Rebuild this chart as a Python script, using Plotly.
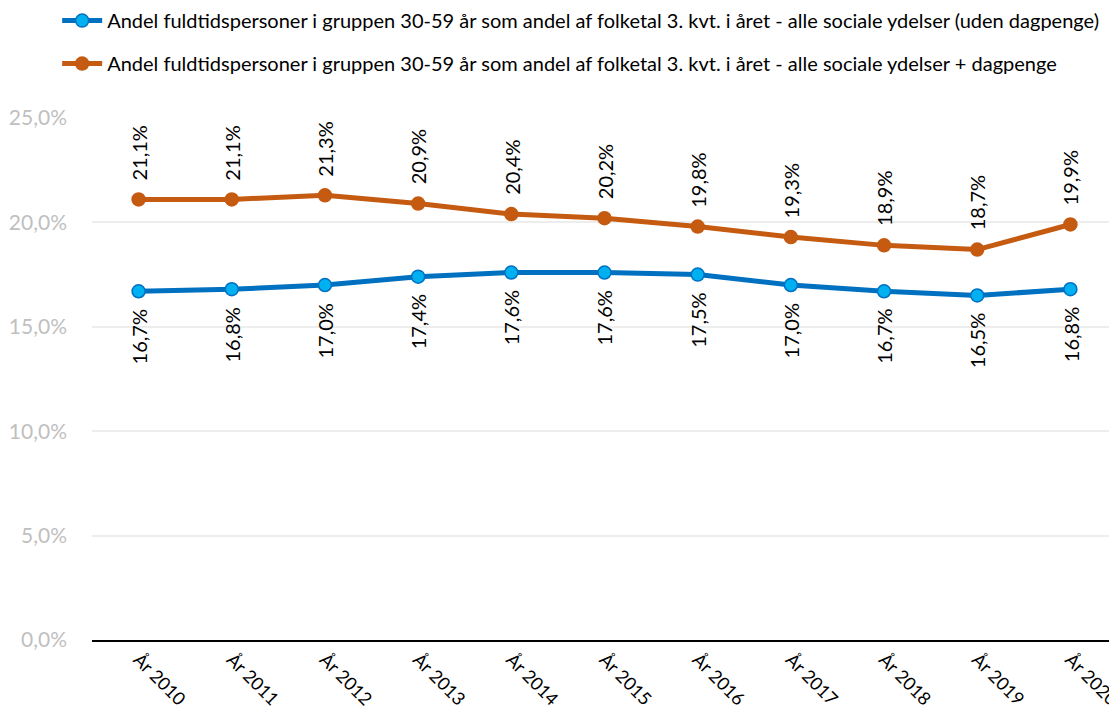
import plotly.graph_objects as go

years = ["År 2010", "År 2011", "År 2012", "År 2013", "År 2014", "År 2015",
         "År 2016", "År 2017", "År 2018", "År 2019", "År 2020"]
uden_dagpenge = [16.7, 16.8, 17.0, 17.4, 17.6, 17.6, 17.5, 17.0, 16.7, 16.5, 16.8]
med_dagpenge = [21.1, 21.1, 21.3, 20.9, 20.4, 20.2, 19.8, 19.3, 18.9, 18.7, 19.9]
name_blue = "Andel fuldtidspersoner i gruppen 30-59 år som andel af folketal 3. kvt. i året - alle sociale ydelser (uden dagpenge)"
name_orange = "Andel fuldtidspersoner i gruppen 30-59 år som andel af folketal 3. kvt. i året - alle sociale ydelser + dagpenge"
y_ticks = [0, 5, 10, 15, 20, 25]
y_ticklabels = ["0,0%", "5,0%", "10,0%", "15,0%", "20,0%", "25,0%"]

FONT = "Lato"

def fmt(v):
    return f"{v:.1f}".replace(".", ",") + "%"

fig = go.Figure()
fig.add_trace(go.Scatter(
    x=years, y=uden_dagpenge, mode="lines+markers", name=name_blue,
    line=dict(color="#0070C0", width=5),
    marker=dict(size=13, color="#00B0F0", line=dict(color="#0070C0", width=1.5)),
    legendgroup="a",
))
fig.add_trace(go.Scatter(
    x=years, y=med_dagpenge, mode="lines+markers", name=name_orange,
    line=dict(color="#C55A11", width=5),
    marker=dict(size=13, color="#C55A11", line=dict(color="#C55A11", width=1.5)),
    legendgroup="b",
))

for x, v in zip(years, med_dagpenge):
    fig.add_annotation(x=x, y=v, text=fmt(v), textangle=-90, showarrow=False,
                       yanchor="bottom", yshift=17,
                       font=dict(family=FONT, size=20, color="#000000"))
for x, v in zip(years, uden_dagpenge):
    fig.add_annotation(x=x, y=v, text=fmt(v), textangle=-90, showarrow=False,
                       yanchor="top", yshift=-16,
                       font=dict(family=FONT, size=20, color="#000000"))

fig.update_layout(
    width=1109, height=707,
    paper_bgcolor="white", plot_bgcolor="white",
    margin=dict(l=84, r=0, t=110, b=75, pad=0, autoexpand=False),
    font=dict(family=FONT, size=20, color="#000000"),
    showlegend=True,
    legend=dict(xref="paper", yref="paper", x=-0.034, y=1.224,
                xanchor="left", yanchor="top", tracegroupgap=14,
                font=dict(family=FONT, size=20, color="#000000"),
                itemwidth=40, bgcolor="rgba(0,0,0,0)"),
)
fig.update_xaxes(type="category", range=[-0.5, 10.5], showgrid=False, showline=True,
                 linecolor="#000000", linewidth=2, ticks="", tickangle=45,
                 tickfont=dict(family=FONT, size=18, color="#000000"))
fig.update_yaxes(range=[0, 25], tickvals=y_ticks, ticktext=y_ticklabels,
                 showgrid=True, gridcolor="#EDEDED", gridwidth=1.5, zeroline=False,
                 showline=False, ticks="", ticklabelstandoff=24,
                 tickfont=dict(family=FONT, size=21, color="#BFBFBF"))

fig.write_html("out.html")
